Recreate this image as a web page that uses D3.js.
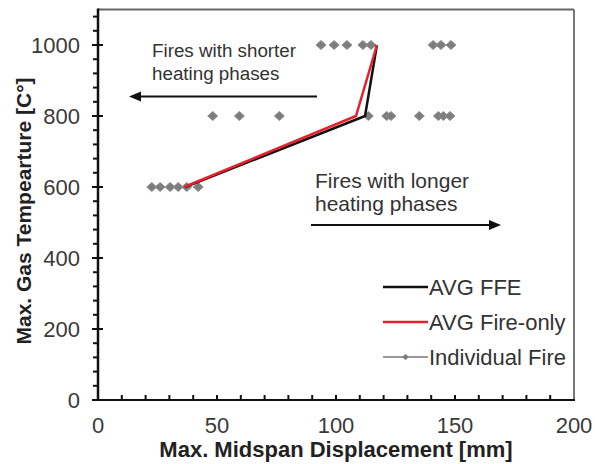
<!DOCTYPE html>
<html>
<head>
<meta charset="utf-8">
<script src="https://cdn.jsdelivr.net/npm/d3@7"></script>
<style>
  body { margin: 0; background: #fff; }
  svg { display: block; font-family: Arial, "Liberation Sans", sans-serif; }
</style>
</head>
<body>
<div id="chart"></div>
<script>
// data
const temps = [600, 800, 1000];
const avgFFE = [36.6, 112.2, 117.2];
const avgFireOnly = [36.2, 108.4, 117.2];
const fire600 = [22.6, 26.1, 30.3, 33.7, 37.3, 42.1];
const fire800 = [48.2, 59.4, 76.2, 113.6, 121.3, 123.1, 135, 143, 145.1, 147.9];
const fire1000 = [93.7, 99.2, 104.6, 111.3, 114.7, 140.8, 144.1, 148.3];
const xTicks = [0, 50, 100, 150, 200];
const yTicks = [0, 200, 400, 600, 800, 1000];

const W = 595, H = 464;
const svg = d3.select("#chart").append("svg").attr("width", W).attr("height", H);

const x = d3.scaleLinear().domain([0, 200]).range([98, 574]);
const y = d3.scaleLinear().domain([0, 1100]).range([400, 9.5]);

// frame: top/right gray, left/bottom black
svg.append("line").attr("x1", x(0)).attr("x2", x(200)).attr("y1", y(1100)).attr("y2", y(1100))
  .attr("stroke", "#666").attr("stroke-width", 2);
svg.append("line").attr("x1", x(200)).attr("x2", x(200)).attr("y1", y(1100)).attr("y2", y(0))
  .attr("stroke", "#777").attr("stroke-width", 2);

// minor ticks
const xMinor = d3.range(10, 200, 10);
svg.append("g").selectAll("line").data(xMinor).join("line")
  .attr("x1", d => x(d)).attr("x2", d => x(d)).attr("y1", y(0) - 5).attr("y2", y(0))
  .attr("stroke", "#111").attr("stroke-width", 2);
const yMinor = d3.range(40, 1100, 40).filter(d => d % 200 !== 0);
svg.append("g").selectAll("line").data(yMinor).join("line")
  .attr("x1", x(0) - 5).attr("x2", x(0) + 1).attr("y1", d => y(d)).attr("y2", d => y(d))
  .attr("stroke", "#111").attr("stroke-width", 2);
svg.append("g").selectAll("line").data(yTicks).join("line")
  .attr("x1", x(0) - 6).attr("x2", x(0) + 5).attr("y1", d => y(d)).attr("y2", d => y(d))
  .attr("stroke", "#111").attr("stroke-width", 2);

svg.append("line").attr("x1", x(0)).attr("x2", x(0)).attr("y1", y(1100) - 1).attr("y2", y(0) + 1)
  .attr("stroke", "#111").attr("stroke-width", 2.5);
svg.append("line").attr("x1", x(0) - 1).attr("x2", x(200) + 1).attr("y1", y(0)).attr("y2", y(0))
  .attr("stroke", "#111").attr("stroke-width", 2.2);

// tick labels
svg.append("g").selectAll("text").data(xTicks).join("text")
  .attr("x", d => x(d)).attr("y", 433).attr("text-anchor", "middle")
  .attr("font-size", 22).attr("fill", "#3a3a3a").text(d => d);
svg.append("g").selectAll("text").data(yTicks).join("text")
  .attr("x", 80).attr("y", d => y(d) + 8).attr("text-anchor", "end")
  .attr("font-size", 22).attr("fill", "#3a3a3a").text(d => d);

// axis titles
svg.append("text").attr("x", 336).attr("y", 457).attr("text-anchor", "middle")
  .attr("font-size", 22).attr("font-weight", "bold").attr("fill", "#222")
  .text("Max. Midspan Displacement [mm]");
svg.append("text").attr("transform", "translate(31,211) rotate(-90)").attr("text-anchor", "middle")
  .attr("font-size", 21).attr("font-weight", "bold").attr("fill", "#222")
  .text("Max. Gas Tempearture [C°]");

// individual fires
const pts = [].concat(
  fire600.map(v => [v, 600]),
  fire800.map(v => [v, 800]),
  fire1000.map(v => [v, 1000])
);
const diamond = "M0,-4.5L5,0L0,4.5L-5,0Z";
svg.append("g").selectAll("path").data(pts).join("path")
  .attr("d", diamond)
  .attr("transform", d => `translate(${x(d[0])},${y(d[1])})`)
  .attr("fill", "#7d7d7d").attr("stroke", "#909090").attr("stroke-width", 1);

// average lines
const line = d3.line().x(d => x(d[0])).y(d => y(d[1]));
svg.append("path").datum(avgFFE.map((v, i) => [v, temps[i]]))
  .attr("d", line).attr("fill", "none").attr("stroke", "#111").attr("stroke-width", 2.5);
svg.append("path").datum(avgFireOnly.map((v, i) => [v, temps[i]]))
  .attr("d", line).attr("fill", "none").attr("stroke", "#e8202c").attr("stroke-width", 2.5);

// annotations
const ann = svg.append("g").attr("fill", "#333");
ann.append("text").attr("x", 152).attr("y", 57).attr("font-size", 18.8).text("Fires with shorter");
ann.append("text").attr("x", 152).attr("y", 80).attr("font-size", 18.8).text("heating phases");
ann.append("text").attr("x", 315).attr("y", 188).attr("font-size", 21).text("Fires with longer");
ann.append("text").attr("x", 315).attr("y", 211).attr("font-size", 21).text("heating phases");

svg.append("line").attr("x1", 317).attr("x2", 140).attr("y1", 96.5).attr("y2", 96.5)
  .attr("stroke", "#111").attr("stroke-width", 2.2);
svg.append("path").attr("d", "M129,96.5L141,91.5L141,101.5Z").attr("fill", "#111");
svg.append("line").attr("x1", 311).attr("x2", 490).attr("y1", 225).attr("y2", 225)
  .attr("stroke", "#111").attr("stroke-width", 2.2);
svg.append("path").attr("d", "M501,225L489,220L489,230Z").attr("fill", "#111");

// legend
const legendItems = [
  { name: "AVG FFE", color: "#111", marker: false },
  { name: "AVG Fire-only", color: "#e8202c", marker: false },
  { name: "Individual Fire", color: "#9a9a9a", marker: true }
];
const lg = svg.append("g");
legendItems.forEach((d, i) => {
  const yy = 287 + i * 35;
  lg.append("line").attr("x1", 383).attr("x2", 428).attr("y1", yy).attr("y2", yy)
    .attr("stroke", d.color).attr("stroke-width", d.marker ? 2 : 2.5);
  if (d.marker) {
    lg.append("path").attr("d", "M0,-3L3.5,0L0,3L-3.5,0Z")
      .attr("transform", `translate(405.5,${yy})`).attr("fill", "#7d7d7d");
  }
  lg.append("text").attr("x", 429).attr("y", yy + 8).attr("font-size", 22)
    .attr("fill", "#333").text(d.name);
});
</script>
</body>
</html>
